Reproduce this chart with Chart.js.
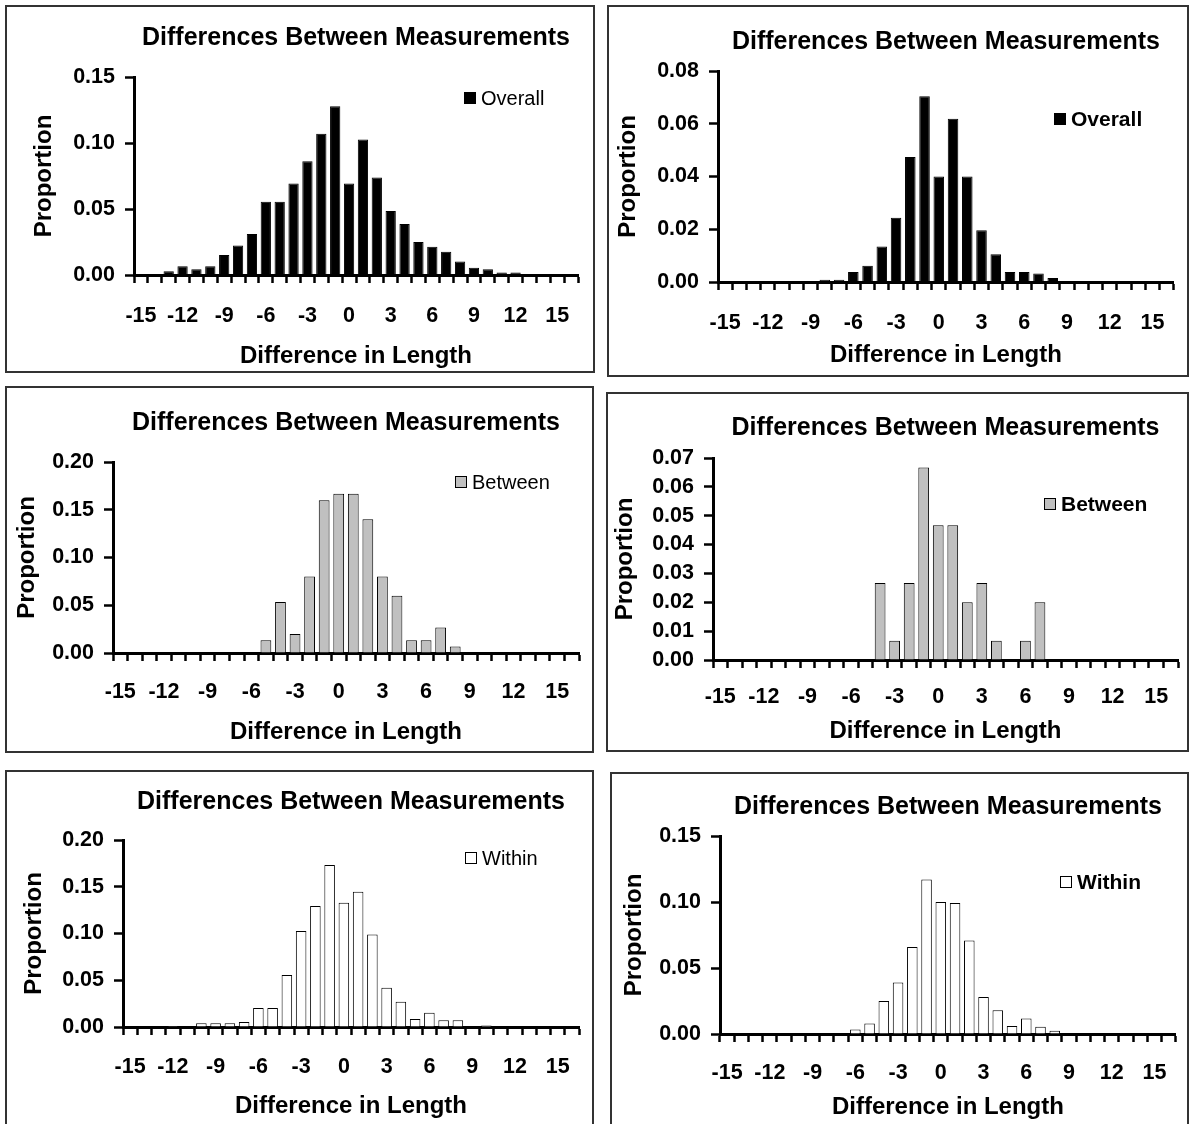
<!DOCTYPE html>
<html>
<head>
<meta charset="utf-8">
<script src="https://cdn.jsdelivr.net/npm/chart.js@4/dist/chart.umd.min.js"></script>
<style>
  body { margin: 0; background: #fff; width: 1191px; height: 1124px; overflow: hidden; position: relative; }
  .panel { position: absolute; border: 2px solid #333; box-sizing: border-box; background: #fff; overflow: hidden; }
  .panel canvas { position: absolute; left: 0; top: 0; }
</style>
</head>
<body>
<div class="panel" id="p1"><canvas id="c1"></canvas></div>
<div class="panel" id="p2"><canvas id="c2"></canvas></div>
<div class="panel" id="p3"><canvas id="c3"></canvas></div>
<div class="panel" id="p4"><canvas id="c4"></canvas></div>
<div class="panel" id="p5"><canvas id="c5"></canvas></div>
<div class="panel" id="p6"><canvas id="c6"></canvas></div>
<script>
// categories: difference in length, -15 .. 16
const diffLabels = [-15, -14, -13, -12, -11, -10, -9, -8, -7, -6, -5, -4, -3, -2, -1, 0,
  1, 2, 3, 4, 5, 6, 7, 8, 9, 10, 11, 12, 13, 14, 15, 16];

// left column
const overallLeft = [0, 0, 0.0028, 0.0066, 0.0043, 0.0066, 0.0151, 0.0224, 0.031, 0.0555, 0.0555, 0.0693, 0.0862, 0.107, 0.1278, 0.0693,
  0.1026, 0.0739, 0.0484, 0.0386, 0.025, 0.0214, 0.0176, 0.0103, 0.0055, 0.0043, 0.0018, 0.0018, 0, 0, 0, 0];
const betweenLeft = [0, 0, 0, 0, 0, 0, 0, 0, 0, 0, 0.0133, 0.0533, 0.02, 0.08, 0.16, 0.1667,
  0.1667, 0.14, 0.08, 0.06, 0.0133, 0.0133, 0.0267, 0.0067, 0, 0, 0, 0, 0, 0, 0, 0];
const withinLeft = [0, 0, 0, 0.0012, 0, 0.004, 0.004, 0.004, 0.0053, 0.0203, 0.0203, 0.0556, 0.1027, 0.1294, 0.1733, 0.133,
  0.1447, 0.099, 0.042, 0.027, 0.0086, 0.0153, 0.0071, 0.0071, 0, 0.0015, 0, 0, 0, 0, 0, 0];

// right column
const overallRight = [0, 0, 0, 0, 0, 0, 0, 0.0009, 0.0009, 0.0038, 0.0062, 0.0135, 0.0244, 0.0474, 0.0704, 0.04,
  0.0619, 0.04, 0.0196, 0.0105, 0.0038, 0.0038, 0.0032, 0.0015, 0, 0, 0, 0, 0, 0, 0, 0];
const betweenRight = [0, 0, 0, 0, 0, 0, 0, 0, 0, 0, 0, 0.0267, 0.0067, 0.0267, 0.0667, 0.0467,
  0.0467, 0.02, 0.0267, 0.0067, 0, 0.0067, 0.02, 0, 0, 0, 0, 0, 0, 0, 0, 0];
const withinRight = [0, 0, 0, 0, 0, 0, 0, 0, 0, 0.0035, 0.008, 0.025, 0.039, 0.066, 0.117, 0.1,
  0.0993, 0.0708, 0.028, 0.0179, 0.006, 0.0118, 0.0055, 0.0025, 0, 0, 0, 0, 0, 0, 0, 0];

const FONT = "'Liberation Sans', Arial, sans-serif";
Chart.defaults.color = '#000';
Chart.defaults.font.family = FONT;

// draws the small legend inside the plot, upper right
const insideLegend = {
  id: 'insideLegend',
  afterDraw(chart, args, opts) {
    const ds = chart.data.datasets[0];
    const ctx = chart.ctx;
    const s = opts.box;
    ctx.save();
    ctx.fillStyle = ds.backgroundColor;
    ctx.fillRect(opts.x, opts.y - s / 2, s, s);
    ctx.strokeStyle = '#000';
    ctx.lineWidth = 1;
    ctx.strokeRect(opts.x + 0.5, opts.y - s / 2 + 0.5, s - 1, s - 1);
    ctx.fillStyle = '#000';
    ctx.font = (opts.bold ? 'bold ' : '') + opts.size + 'px ' + FONT;
    ctx.textBaseline = 'middle';
    ctx.fillText(ds.label, opts.x + s + 5, opts.y + 1);
    ctx.restore();
  }
};

function makeChart(id, spec) {
  const panel = document.getElementById('p' + id);
  const canvas = document.getElementById('c' + id);
  const b = spec.box;
  panel.style.left = b.x + 'px';
  panel.style.top = b.y + 'px';
  panel.style.width = b.w + 'px';
  panel.style.height = b.h + 'px';
  const cw = b.w - 4, ch = b.h - 4;
  const ox = b.x + 2, oy = b.y + 2;
  canvas.width = cw;
  canvas.height = ch;
  canvas.style.width = cw + 'px';
  canvas.style.height = ch + 'px';

  const L = spec.plot.l - ox, R = spec.plot.r - ox;
  const T = spec.plot.t - oy, B = spec.plot.b - oy;

  const titleSize = 25, titleLh = titleSize * 1.2;
  const titlePadTop = (spec.titleY - oy) - titleLh / 2;
  const axTitleSize = 24, axLh = axTitleSize * 1.2;
  const tickSize = 21.5, tickLh = tickSize * 1.2;
  const xTickLen = 8, yTickLen = 9;

  new Chart(canvas, {
    type: 'bar',
    data: {
      labels: diffLabels,
      datasets: [{
        label: spec.label,
        data: spec.data,
        backgroundColor: spec.fill,
        borderColor: '#000',
        borderWidth: 1,
        barPercentage: 0.74,
        categoryPercentage: 1.0
      }]
    },
    options: {
      responsive: false,
      animation: false,
      events: [],
      layout: { padding: { left: 0, top: 0, bottom: 0, right: cw - R } },
      plugins: {
        legend: { display: false },
        tooltip: { enabled: false },
        title: {
          display: true,
          text: 'Differences Between Measurements',
          fullSize: false,
          font: { size: titleSize, weight: 'bold', lineHeight: 1.2 },
          padding: { top: titlePadTop, bottom: T - titlePadTop - titleLh }
        },
        insideLegend: { x: spec.legend.x - ox, y: spec.legend.y - oy, box: 12,
          size: spec.legend.bold ? 21 : 20, bold: spec.legend.bold }
      },
      scales: {
        x: {
          offset: true,
          grid: { offset: true, drawOnChartArea: false, drawTicks: true, tickLength: xTickLen, tickWidth: 2.5, tickColor: '#000' },
          border: { display: true, color: '#000', width: 3 },
          ticks: {
            autoSkip: false, maxRotation: 0, minRotation: 0,
            padding: (spec.xTickY - oy) - B - xTickLen - tickLh / 2,
            font: { size: tickSize, weight: 'bold', lineHeight: 1.2 },
            callback: function (v, i) {
              const d = diffLabels[i];
              return (d % 3 === 0 && Math.abs(d) <= 15) ? String(d) : '';
            }
          },
          title: {
            display: true, text: 'Difference in Length',
            font: { size: axTitleSize, weight: 'bold', lineHeight: 1.2 },
            padding: { top: 0, bottom: ch - (spec.xTitleY - oy) - axLh / 2 }
          },
          afterFit: function (s) { s.height = ch - B; }
        },
        y: {
          min: 0, max: spec.yMax,
          grid: { drawOnChartArea: false, drawTicks: true, tickLength: yTickLen, tickWidth: 2.5, tickColor: '#000' },
          border: { display: true, color: '#000', width: 3 },
          ticks: {
            stepSize: spec.yStep, padding: 10,
            font: { size: tickSize, weight: 'bold' },
            callback: v => v.toFixed(2)
          },
          title: {
            display: true, text: 'Proportion',
            font: { size: axTitleSize, weight: 'bold', lineHeight: 1.2 },
            padding: { top: (spec.yTitleX - ox) - axLh / 2, bottom: 0 }
          },
          afterFit: function (s) { s.width = L; }
        }
      }
    },
    plugins: [insideLegend]
  });
}

const BLACK = '#000000', GREY = '#c0c0c0', WHITE = '#ffffff';

makeChart(1, { box: { x: 5, y: 5, w: 590, h: 368 }, plot: { l: 134, r: 578, t: 77, b: 275 },
  titleY: 38, yTitleX: 44, xTickY: 316, xTitleY: 356, legend: { x: 464, y: 98, bold: false },
  yMax: 0.15, yStep: 0.05, label: 'Overall', data: overallLeft, fill: BLACK });
makeChart(2, { box: { x: 607, y: 5, w: 582, h: 372 }, plot: { l: 718, r: 1179, t: 71, b: 282 },
  titleY: 42, yTitleX: 628, xTickY: 323, xTitleY: 355, legend: { x: 1054, y: 119, bold: true },
  yMax: 0.08, yStep: 0.02, label: 'Overall', data: overallRight, fill: BLACK });
makeChart(3, { box: { x: 5, y: 386, w: 589, h: 367 }, plot: { l: 113, r: 579, t: 462, b: 653 },
  titleY: 423, yTitleX: 27, xTickY: 692, xTitleY: 732, legend: { x: 455, y: 482, bold: false },
  yMax: 0.2, yStep: 0.05, label: 'Between', data: betweenLeft, fill: GREY });
makeChart(4, { box: { x: 606, y: 392, w: 583, h: 360 }, plot: { l: 713, r: 1178, t: 458, b: 660 },
  titleY: 428, yTitleX: 625, xTickY: 697, xTitleY: 731, legend: { x: 1044, y: 504, bold: true },
  yMax: 0.07, yStep: 0.01, label: 'Between', data: betweenRight, fill: GREY });
makeChart(5, { box: { x: 5, y: 770, w: 589, h: 360 }, plot: { l: 123, r: 579, t: 840, b: 1027 },
  titleY: 802, yTitleX: 34, xTickY: 1067, xTitleY: 1106, legend: { x: 465, y: 858, bold: false },
  yMax: 0.2, yStep: 0.05, label: 'Within', data: withinLeft, fill: WHITE });
makeChart(6, { box: { x: 610, y: 772, w: 579, h: 360 }, plot: { l: 720, r: 1179, t: 836, b: 1034 },
  titleY: 807, yTitleX: 634, xTickY: 1073, xTitleY: 1107, legend: { x: 1060, y: 882, bold: true },
  yMax: 0.15, yStep: 0.05, label: 'Within', data: withinRight, fill: WHITE });
</script>
</body>
</html>
